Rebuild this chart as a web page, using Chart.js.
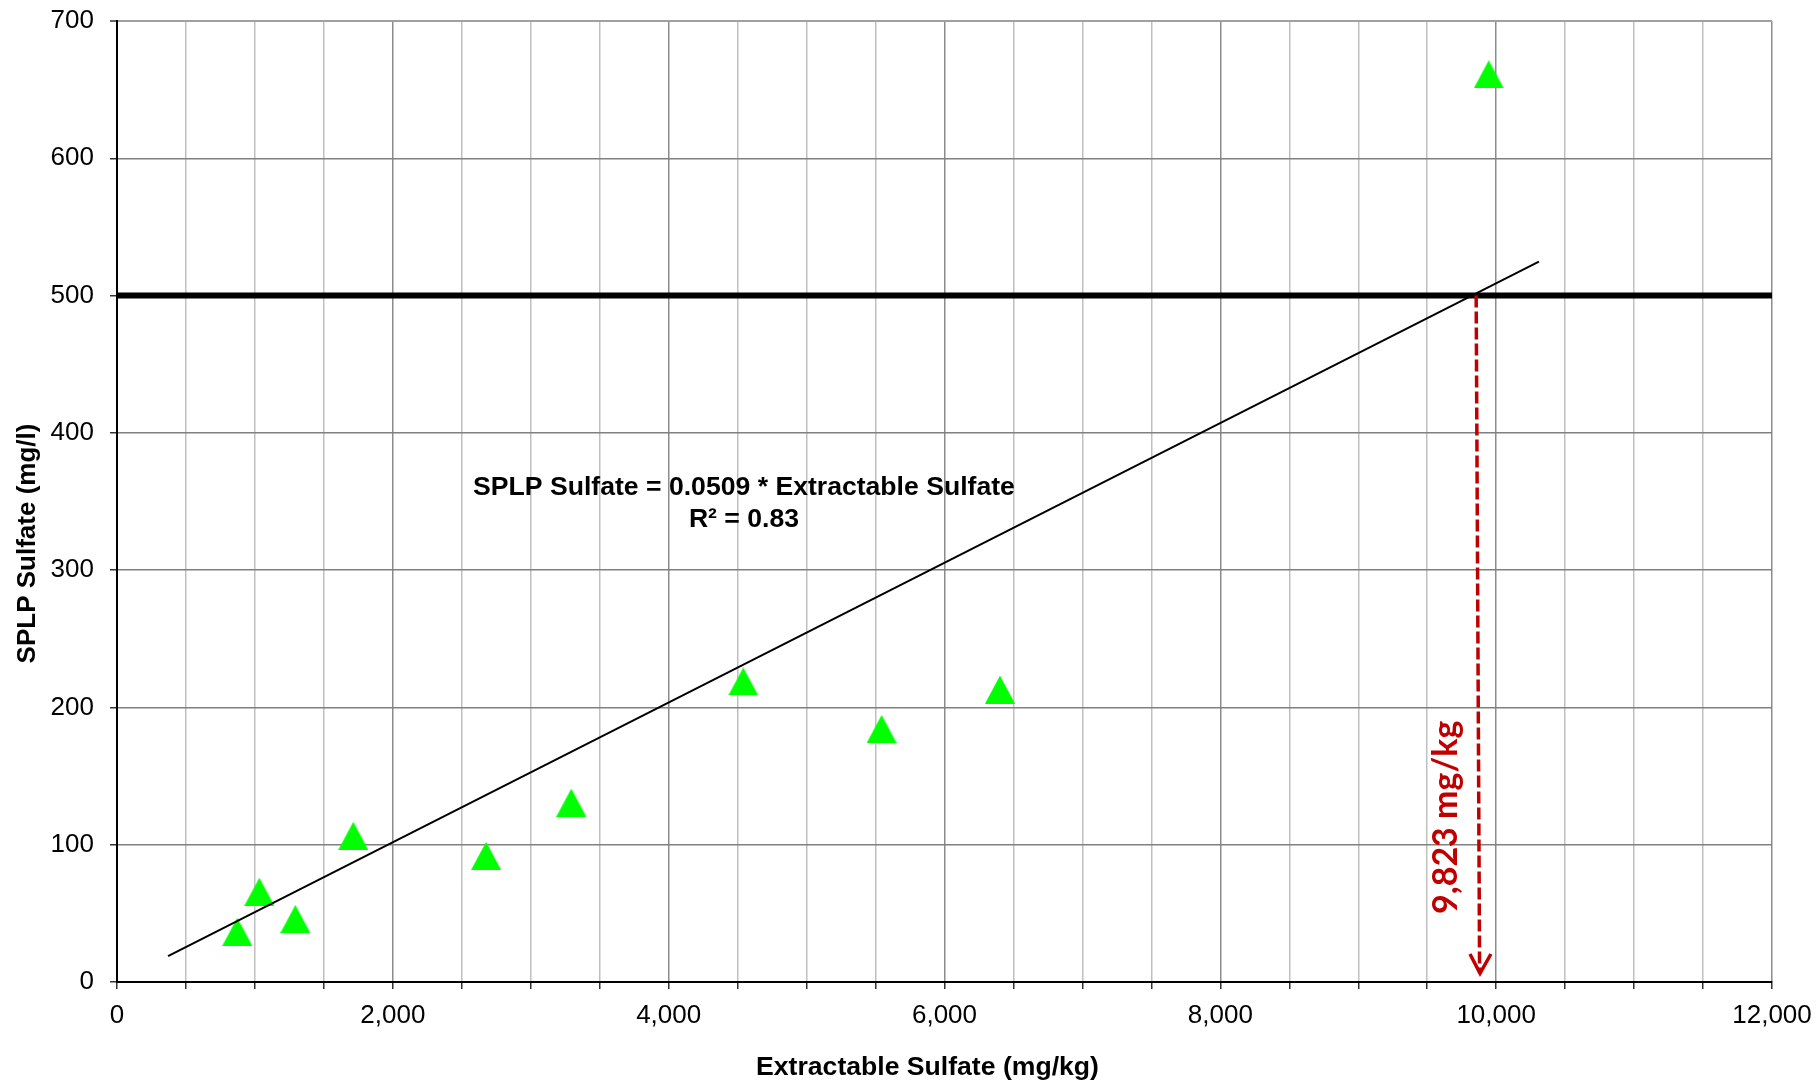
<!DOCTYPE html>
<html>
<head>
<meta charset="utf-8">
<script src="https://cdn.jsdelivr.net/npm/chart.js@4.4.1/dist/chart.umd.min.js"></script>
<style>
html,body{margin:0;padding:0;background:#ffffff;}
#wrap{width:1818px;height:1084px;position:relative;}
</style>
</head>
<body>
<div id="wrap"><canvas id="c" width="1818" height="1084"></canvas></div>
<script>
// ---- data ----
const extractable = [872, 1032, 1293, 1713, 2676, 3294, 4541, 5544, 6402, 9946];
const splp        = [36.6, 65.8, 45.9, 106.5, 91.9, 130.7, 218.9, 184.3, 213.0, 661.2];

const trendX = [370, 10310];
const trendY = [18.8, 524.8];

const limitX = [0, 12000];
const limitY = [500, 500];

const dropX = [9855, 9880];
const dropY = [500, 6.5];

const arrowX = [9810, 9883, 9962];
const arrowY = [20.4, 6.3, 20.4];

const xTickValues = [0, 2000, 4000, 6000, 8000, 10000, 12000];
const xTickLabels = ['0', '2,000', '4,000', '6,000', '8,000', '10,000', '12,000'];
const yTickValues = [0, 100, 200, 300, 400, 500, 600, 700];
const yTickLabels = ['0', '100', '200', '300', '400', '500', '600', '700'];

const equationLines = ['SPLP Sulfate = 0.0509 * Extractable Sulfate', 'R\u00B2 = 0.83'];
const equationAnchorX = 4546;
const equationAnchorY = [359.8, 337.1];
const crossingLabel = '9,823 mg/kg';
const crossingLabelY = 120;
const xTitle = 'Extractable Sulfate (mg/kg)';
const yTitle = 'SPLP Sulfate (mg/l)';

// ---- helpers ----
function zip(xs, ys) { return xs.map((x, i) => ({x: x, y: ys[i]})); }
function makeTriangle(w, h, color) {
  const c = document.createElement('canvas');
  c.width = w; c.height = h;
  const g = c.getContext('2d');
  g.fillStyle = color;
  g.beginPath();
  g.moveTo(w / 2, 0);
  g.lineTo(w, h);
  g.lineTo(0, h);
  g.closePath();
  g.fill();
  return c;
}
const tri = makeTriangle(30, 28, '#00FF00');

const FONT = "'Liberation Sans', Arial, Helvetica, sans-serif";
Chart.defaults.font.family = FONT;
Chart.defaults.color = '#000000';

const annotPlugin = {
  id: 'annot',
  afterDatasetsDraw(chart) {
    const ctx = chart.ctx;
    const xs = chart.scales.x, ys = chart.scales.y;
    ctx.save();
    // regression equation
    ctx.fillStyle = '#000000';
    ctx.font = "bold 26.6px " + FONT;
    ctx.textAlign = 'center';
    ctx.textBaseline = 'middle';
    equationLines.forEach((t, i) => {
      ctx.fillText(t, xs.getPixelForValue(equationAnchorX), ys.getPixelForValue(equationAnchorY[i]));
    });
    // crossing label (rotated)
    ctx.save();
    ctx.translate(xs.getPixelForValue(dropX[0]) - 30, ys.getPixelForValue(crossingLabelY));
    ctx.rotate(-Math.PI / 2);
    ctx.fillStyle = '#C00000';
    ctx.font = "bold 34px Lato, 'Open Sans', sans-serif";
    ctx.textAlign = 'center';
    ctx.textBaseline = 'middle';
    ctx.fillText(crossingLabel, 0, 0);
    ctx.restore();
    // y axis title
    ctx.save();
    ctx.translate(28, (ys.top + ys.bottom) / 2 + 42);
    ctx.rotate(-Math.PI / 2);
    ctx.fillStyle = '#000000';
    ctx.font = "bold 26px " + FONT;
    ctx.textAlign = 'center';
    ctx.textBaseline = 'middle';
    ctx.fillText(yTitle, 0, 0);
    ctx.restore();
    // x axis title
    ctx.fillStyle = '#000000';
    ctx.font = "bold 26.6px " + FONT;
    ctx.textAlign = 'center';
    ctx.textBaseline = 'middle';
    ctx.fillText(xTitle, (xs.left + xs.right) / 2 - 17, 1068);
    ctx.restore();
  }
};

new Chart(document.getElementById('c'), {
  type: 'scatter',
  data: {
    datasets: [
      {
        label: 'arrowhead',
        type: 'line',
        data: zip(arrowX, arrowY),
        borderColor: '#C00000',
        borderWidth: 3.5,
        pointRadius: 0,
        fill: false,
        tension: 0
      },
      {
        label: 'crossing',
        type: 'line',
        data: zip(dropX, dropY),
        borderColor: '#C00000',
        borderWidth: 3.5,
        borderDash: [12, 4],
        pointRadius: 0,
        fill: false,
        tension: 0
      },
      {
        label: 'trend',
        type: 'line',
        data: zip(trendX, trendY),
        borderColor: '#000000',
        borderWidth: 2,
        pointRadius: 0,
        fill: false,
        tension: 0
      },
      {
        label: 'limit',
        type: 'line',
        data: zip(limitX, limitY),
        borderColor: '#000000',
        borderWidth: 6,
        pointRadius: 0,
        fill: false,
        tension: 0
      },
      {
        label: 'samples',
        data: zip(extractable, splp),
        pointStyle: tri,
        pointRadius: 15,
        showLine: false
      }
    ]
  },
  options: {
    responsive: false,
    devicePixelRatio: 1,
    animation: false,
    events: [],
    layout: { padding: { left: 0, top: 21, right: 46, bottom: 0 } },
    plugins: { legend: { display: false }, tooltip: { enabled: false }, title: { display: false } },
    scales: {
      x: {
        type: 'linear',
        min: 0, max: 12000,
        afterFit(s) { s.height = 102; s.paddingLeft = 0; s.paddingRight = 0; },
        afterBuildTicks(s) {
          const t = [];
          for (let v = 0; v <= 12000; v += 500) t.push({value: v});
          s.ticks = t;
        },
        ticks: {
          autoSkip: false, maxRotation: 0, minRotation: 0,
          padding: 11,
          font: { size: 26 },
          color: '#000000',
          callback(v) { const i = xTickValues.indexOf(v); return i >= 0 ? xTickLabels[i] : ''; }
        },
        grid: {
          color(c) { return (c.tick && c.tick.value % 2000 === 0) ? '#8C8C8C' : '#C0C0C0'; },
          lineWidth: 1.5,
          tickLength: 7,
          tickColor: '#333333',
          tickWidth: 1.5
        },
        border: { color: '#000000', width: 2 },
        title: { display: false }
      },
      y: {
        type: 'linear',
        min: 0, max: 700,
        afterFit(s) { s.width = 117; s.paddingTop = 0; s.paddingBottom = 0; },
        afterBuildTicks(s) { s.ticks = yTickValues.map(v => ({value: v})); },
        ticks: {
          padding: 16,
          font: { size: 26 },
          color: '#000000',
          callback(v) { const i = yTickValues.indexOf(v); return i >= 0 ? yTickLabels[i] : ''; }
        },
        grid: {
          color(c) { return (c.tick && c.tick.value === 700) ? '#A0A0A0' : '#808080'; },
          lineWidth(c) { return (c.tick && c.tick.value === 700) ? 2 : 1.5; },
          tickLength: 7,
          tickColor: '#333333',
          tickWidth: 1.5
        },
        border: { color: '#000000', width: 2 }
      }
    }
  },
  plugins: [annotPlugin]
});
</script>
</body>
</html>
